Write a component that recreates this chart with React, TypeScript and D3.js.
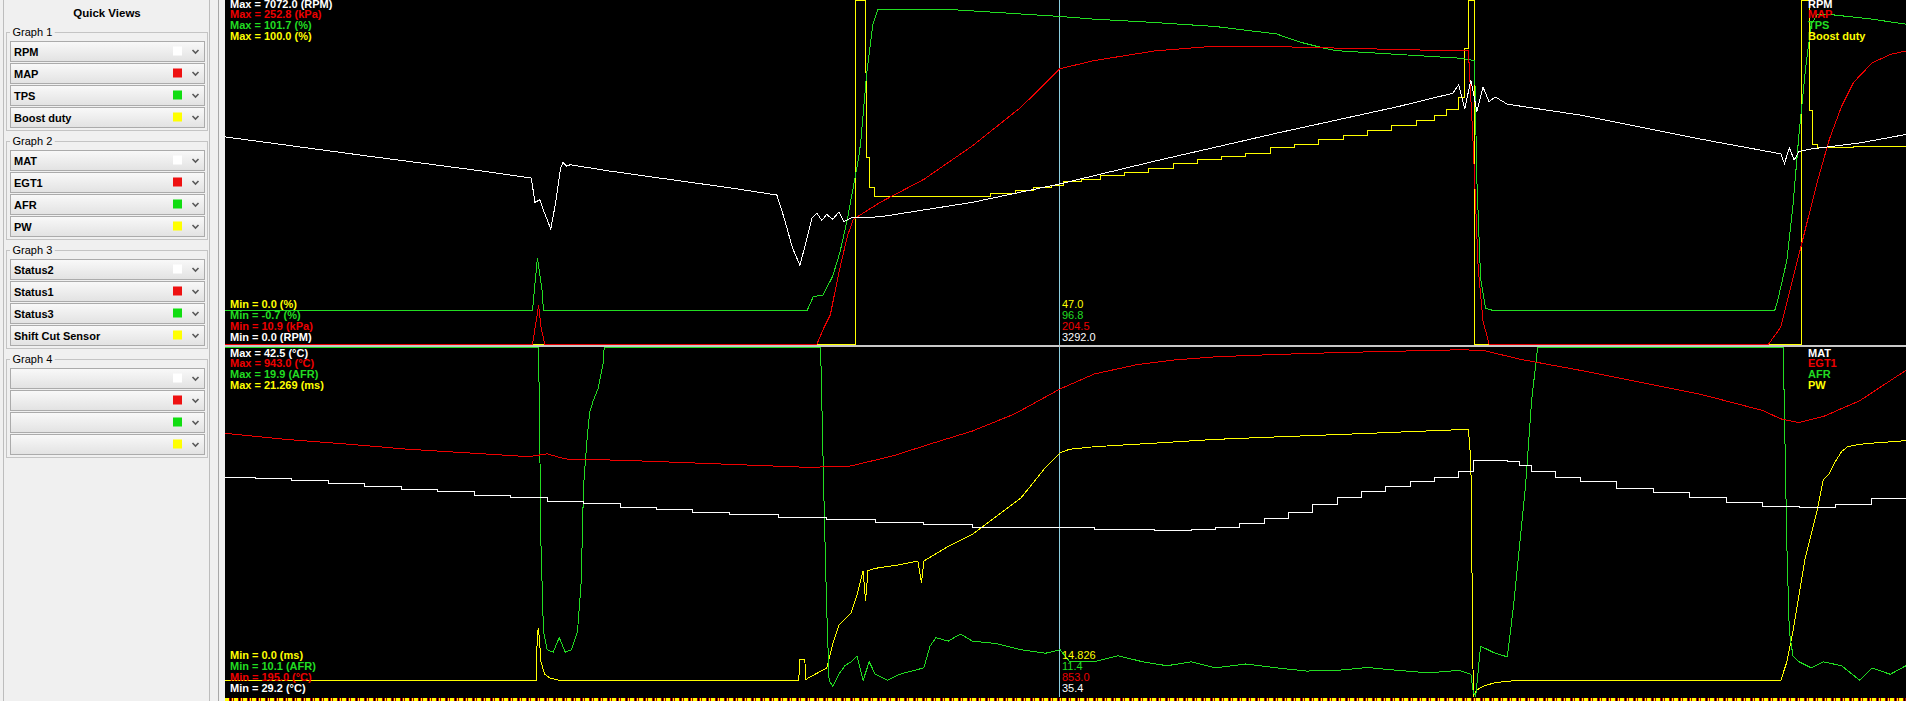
import React, { useEffect, useRef } from 'react'
import * as d3 from 'd3'

type Pt = [number, number]

const WIDTH = 1906
const HEIGHT = 701

// log window in seconds, cursor position
const timeDomain: [number, number] = [0, 138.3]
const cursorTime = 68.7

// ---- Graph 1 traces [time, value] ----
const rpm: Pt[] = [
  [0, 4258], [11.5, 3872], [21, 3561], [25.2, 3411], [25.5, 2913], [25.9, 2963], [26.2, 2750], [26.8, 2366],
  [27.2, 2900], [27.6, 3600], [27.8, 3735], [28.1, 3660], [28.4, 3685], [31.5, 3561], [36.5, 3386], [41.5, 3212],
  [45.4, 3063], [46, 2590], [46.7, 1967], [47.3, 1619], [47.8, 2092], [48.3, 2590], [48.7, 2689], [49.1, 2540],
  [49.5, 2664], [50, 2565], [50.5, 2714], [50.9, 2515], [51.5, 2590], [53.9, 2615], [61.5, 2913], [68.7, 3292],
  [76.5, 3760], [86.5, 4333], [96.5, 4880], [101, 5154], [101.5, 5329], [102, 4831], [102.5, 5428], [103, 4781],
  [103.5, 5279], [104, 4980], [104.5, 5080], [105.5, 4930], [111.5, 4706], [121.5, 4208], [128, 3909], [128.3, 3710],
  [128.7, 4034], [129.1, 3785], [129.5, 3959], [130.5, 4009], [134.5, 4133], [138.3, 4308]
]
const map: Pt[] = [
  [0, 10.9], [25.3, 10.9], [25.6, 27], [25.8, 38], [26, 22.8], [26.3, 10.9], [48.7, 10.9], [49.3, 22.8],
  [49.8, 31.3], [50.5, 61], [51.2, 86.6], [51.7, 98.6], [53.9, 110.5], [57.5, 126.7], [61.5, 150.3], [65.5, 177.5],
  [68.7, 204.5], [71.5, 210.2], [76.5, 217], [81.5, 220.4], [86.5, 220], [91.5, 219], [96.5, 218], [101.5, 217],
  [102.3, 217], [102.7, 150], [103.1, 65], [103.5, 27], [104, 10.9], [127, 10.9], [128, 22.8], [129, 56.9],
  [130, 91], [131, 125], [132, 155], [133, 178], [134, 195], [135.5, 208.5], [137, 214.5], [138.3, 217]
]
const tps: Pt[] = [
  [0, 9.3], [25.3, 9.3], [25.7, 24.9], [26.1, 14.8], [26.2, 9.3], [47.9, 9.3], [48.4, 13.4], [49.2, 13.9],
  [50, 19.5], [50.6, 26.7], [51.2, 36.4], [51.7, 46.2], [52.1, 54.1], [52.3, 59.2], [52.8, 80.1], [53.3, 94.5],
  [53.7, 98.8], [60, 98.8], [68.7, 96.8], [71.5, 96], [76.5, 95], [81.5, 93.8], [86.5, 91.6], [88.5, 89.1],
  [90.5, 87.3], [91.5, 86.6], [96.5, 85.5], [101.5, 84.4], [102.8, 83.7], [103, 47.6], [103.3, 18.8], [103.7, 10],
  [104.3, 9.3], [127.5, 9.3], [127.7, 11.6], [128.5, 24.2], [129, 40.4], [129.5, 62], [130, 80.1], [130.5, 94.5],
  [131, 97.4], [132, 97.4], [135.5, 96], [138.3, 94.5]
]
const boost: Pt[] = [
  [0, 0], [51.9, 100], [52.7, 78.9], [52.8, 54.2], [53, 45.4], [53.4, 43], [63, 43.7], [65, 44.7], [66.5, 45.4],
  [68, 46.1], [69, 47.2], [70.5, 47.9], [72, 48.9], [74, 50], [76, 51], [78, 52.5], [80, 53.5], [82, 54.5],
  [84, 55.5], [86, 57], [88, 58], [90, 59.5], [92, 60.5], [94, 62], [96, 63.5], [98, 65], [99.5, 66.5],
  [100.5, 68.3], [101.5, 71.8], [102, 85.9], [102.3, 100], [102.8, 0], [129.7, 100], [130.4, 68], [130.6, 58],
  [131, 57], [134, 57.5], [138.3, 58]
]

// ---- Graph 2 traces ----
const mat: Pt[] = [
  [0, 37.54], [2.5, 37.5], [5.5, 37.4], [8.5, 37.31], [11.5, 37.17], [14.5, 37.08], [17.5, 36.99], [20.5, 36.85],
  [23.5, 36.75], [26.5, 36.61], [29.5, 36.52], [32.5, 36.38], [35.5, 36.29], [38.5, 36.2], [41.5, 36.1], [45.5, 36.01],
  [49.5, 35.92], [53.5, 35.83], [57.5, 35.73], [61.5, 35.64], [71.5, 35.55], [76.5, 35.5], [79.5, 35.55], [81.5, 35.64],
  [83.5, 35.78], [85.5, 35.97], [87.5, 36.2], [89.5, 36.48], [91.5, 36.75], [93.5, 36.99], [95.5, 37.17], [97.5, 37.36],
  [99.5, 37.54], [101.5, 37.77], [102.7, 38.19], [105.5, 38.14], [106.5, 38.0], [107.5, 37.77], [109.5, 37.54],
  [111.5, 37.36], [114.5, 37.12], [117.5, 36.94], [120.5, 36.75], [123.5, 36.57], [126.5, 36.43], [129.5, 36.38],
  [132.5, 36.48], [135.5, 36.71], [138.3, 36.94]
]
const egt: Pt[] = [
  [0, 758], [5, 745], [10, 735], [15, 724], [20, 716], [25, 708], [26.5, 714], [28, 703], [33, 700], [38, 695],
  [43, 690], [48, 685], [51.5, 688], [55, 710], [58, 735], [61.5, 763], [65, 800], [68.7, 853], [71.5, 885],
  [75, 905], [78, 915], [81.5, 922], [86.5, 927], [91.5, 931], [96.5, 934], [101.5, 937], [103.5, 936],
  [106.5, 917], [111.5, 893], [116.5, 867], [121.5, 841], [126.5, 807], [128, 789], [129.5, 781], [131.5, 794],
  [134.5, 828], [138.3, 893]
]
const afr: Pt[] = [
  [0, 19.9], [25.8, 19.9], [26, 14.3], [26.2, 11.91], [26.5, 11.4], [27, 11.33], [27.5, 11.74], [28, 11.33],
  [28.5, 11.4], [29, 11.91], [29.3, 13.28], [29.5, 16.01], [29.8, 17.37], [30, 18.06], [30.3, 18.4], [30.5, 18.57],
  [30.7, 18.74], [30.9, 19.08], [31.1, 19.42], [31.2, 19.9], [49, 19.9], [49.3, 15.32], [49.5, 12.59], [49.7, 10.54],
  [50, 10.37], [50.5, 10.71], [51, 10.95], [51.5, 11.06], [52, 11.23], [52.5, 10.54], [53, 11.06], [53.5, 10.71],
  [54.5, 10.54], [55.5, 10.71], [57.5, 10.89], [58, 11.5], [58.5, 11.74], [59.5, 11.64], [60.5, 11.84], [61.5, 11.64],
  [63.5, 11.57], [65.5, 11.4], [67.5, 11.3], [68.7, 11.4], [69.5, 11.06], [71.5, 11.06], [73.5, 11.23], [75.5, 11.06],
  [77.5, 10.95], [79.5, 11.06], [81.5, 10.89], [84, 11], [86.5, 10.89], [89, 10.8], [91.5, 10.82], [94, 10.9],
  [96.5, 10.82], [99, 10.75], [101.5, 10.82], [102.5, 10.71], [102.7, 10.2], [102.9, 10.1], [103.3, 11.5],
  [104.5, 11.3], [105.5, 11.2], [106, 12.6], [106.5, 14.3], [107, 16], [107.5, 18.4], [108, 19.9], [128.2, 19.9],
  [128.5, 14.3], [128.7, 11.91], [129, 11.23], [129.5, 11.06], [130.5, 10.89], [131.5, 11.06], [133, 10.95],
  [134.5, 10.54], [135.5, 10.89], [137, 10.71], [138.3, 10.95]
]
const pw: Pt[] = [
  [0, 0.96], [25.6, 0.96], [25.7, 3.93], [25.8, 4.08], [26, 2.08], [26.3, 1.33], [26.7, 1.11], [27.5, 0.96],
  [47.2, 0.96], [47.3, 2.22], [47.7, 2.22], [47.8, 0.96], [48, 1.11], [49.5, 1.7], [50, 3.19], [50.5, 4.3],
  [51, 4.67], [51.5, 5.04], [52, 6.15], [52.5, 7.63], [52.7, 5.78], [52.9, 7.63], [53.5, 7.78], [55.5, 8],
  [57, 8.23], [57.3, 6.89], [57.5, 8.23], [59.5, 9.12], [61.5, 9.86], [63.5, 10.97], [65.5, 12.08], [67.5, 13.93],
  [68.7, 14.826], [69.5, 15.04], [71.5, 15.19], [76.5, 15.41], [81.5, 15.64], [86.5, 15.79], [91.5, 15.93],
  [96.5, 16.08], [101.5, 16.23], [102.3, 16.23], [102.5, 14.3], [102.7, 0], [103, 0.37], [103.5, 0.59],
  [104.5, 0.82], [106.5, 0.96], [128, 0.96], [128.5, 2.08], [129, 3.93], [129.5, 6.15], [130, 8.37], [130.5, 9.86],
  [131, 11.34], [131.5, 13.19], [132, 13.56], [132.5, 14.3], [133, 14.9], [133.5, 15.19], [134.5, 15.34],
  [135.5, 15.41], [138.3, 15.56]
]

// ---- labels / ranges ----
const graph1Names = ['RPM', 'MAP', 'TPS', 'Boost duty']
const graph1Units = ['RPM', 'kPa', '%', '%']
const graph1Min = [0.0, 10.9, -0.7, 0.0]
const graph1Max = [7072.0, 252.8, 101.7, 100.0]
const graph1Cursor = ['3292.0', '204.5', '96.8', '47.0']
const graph1MaxDigits = [1, 1, 1, 1]
const graph1MinDigits = [1, 1, 1, 1]

const graph2Names = ['MAT', 'EGT1', 'AFR', 'PW']
const graph2Units = ['°C', '°C', 'AFR', 'ms']
const graph2Min = [29.2, 195.0, 10.1, 0.0]
const graph2Max = [42.5, 943.0, 19.9, 21.269]
const graph2Cursor = ['35.4', '853.0', '11.4', '14.826']
const graph2MaxDigits = [1, 1, 1, 3]
const graph2MinDigits = [1, 1, 1, 1]

const quickGroups = ['Graph 1', 'Graph 2', 'Graph 3', 'Graph 4']
const quickFields = [
  ['RPM', 'MAP', 'TPS', 'Boost duty'],
  ['MAT', 'EGT1', 'AFR', 'PW'],
  ['Status2', 'Status1', 'Status3', 'Shift Cut Sensor'],
  ['', '', '', '']
]
const swatchColors = ['#ffffff', '#ee1111', '#11dd11', '#ffff00']
const traceColors = ['#ffffff', '#ee0000', '#22dd22', '#ffff00']

const LogViewer: React.FC = () => {
  const svgRef = useRef<SVGSVGElement>(null)

  useEffect(() => {
    if (!svgRef.current) return

    const svg = d3.select(svgRef.current)
    svg.selectAll('*').remove()

    const font = "'Liberation Sans', Arial, sans-serif"
    const plotLeft = 225
    const defs = svg.append('defs')

    const grad = defs.append('linearGradient').attr('id', 'rowGrad')
      .attr('x1', 0).attr('y1', 0).attr('x2', 0).attr('y2', 1)
    grad.append('stop').attr('offset', '0%').attr('stop-color', '#f9f9f9')
    grad.append('stop').attr('offset', '100%').attr('stop-color', '#e2e2e2')

    // marker strip pattern at the bottom
    const pat = defs.append('pattern').attr('id', 'marks')
      .attr('patternUnits', 'userSpaceOnUse').attr('width', 9).attr('height', 4)
    pat.append('rect').attr('width', 9).attr('height', 4).attr('fill', '#b00000')
    pat.append('rect').attr('width', 4).attr('height', 4).attr('fill', '#ffff00')
    pat.append('rect').attr('x', 5).attr('width', 1).attr('height', 4).attr('fill', '#000')
    pat.append('rect').attr('x', 7).attr('width', 1).attr('height', 4).attr('fill', '#ffff00')

    // ---- Quick Views panel ----
    const panel = svg.append('g').style('font-family', font)
    panel.append('rect').attr('width', plotLeft).attr('height', HEIGHT).attr('fill', '#f0f0f0')
    panel.append('rect')
      .attr('x', 3.5).attr('y', -1).attr('width', 206).attr('height', HEIGHT + 2)
      .attr('fill', 'none').attr('stroke', '#bdbdbd')
    panel.append('line')
      .attr('x1', 218.5).attr('x2', 218.5).attr('y1', 0).attr('y2', HEIGHT)
      .attr('stroke', '#a8a8a8')

    panel.append('text')
      .attr('x', 107).attr('y', 17)
      .attr('text-anchor', 'middle')
      .style('font-size', '11.5px').style('font-weight', 'bold')
      .text('Quick Views')

    quickGroups.forEach((title, gi) => {
      const top = 32 + gi * 109
      panel.append('rect')
        .attr('x', 6.5).attr('y', top + 0.5).attr('width', 201).attr('height', 98)
        .attr('fill', 'none').attr('stroke', '#c4c4c4')
      const label = panel.append('text')
        .attr('x', 12.5).attr('y', top + 4)
        .style('font-size', '11px')
        .text(title)
      const len = (label.node() as SVGTextElement).getComputedTextLength()
      panel.insert('rect', () => label.node())
        .attr('x', 10).attr('y', top - 2).attr('width', len + 5).attr('height', 5)
        .attr('fill', '#f0f0f0')

      quickFields[gi].forEach((field, ri) => {
        const ry = top + 9.5 + ri * 22
        panel.append('rect')
          .attr('x', 10.5).attr('y', ry).attr('width', 194).attr('height', 20)
          .attr('fill', 'url(#rowGrad)').attr('stroke', '#ababab')
        panel.append('text')
          .attr('x', 14).attr('y', ry + 14.5)
          .style('font-size', '11px').style('font-weight', 'bold')
          .text(field)
        panel.append('rect')
          .attr('x', 173).attr('y', ry + 5).attr('width', 9).attr('height', 9)
          .attr('fill', swatchColors[ri])
        panel.append('path')
          .attr('d', `M192.5,${ry + 8.5} L195.5,${ry + 11.5} L198.5,${ry + 8.5}`)
          .attr('fill', 'none').attr('stroke', '#5a5a5a').attr('stroke-width', 1.6)
      })
    })

    // ---- plot area ----
    svg.append('rect')
      .attr('x', plotLeft).attr('y', 0).attr('width', WIDTH - plotLeft).attr('height', HEIGHT)
      .attr('fill', '#000')

    const x = d3.scaleLinear().domain(timeDomain).range([plotLeft, WIDTH])
    const cursorX = Math.round(x(cursorTime)) - 0.5

    const panels = [
      {
        top: 0, bottom: 344, traces: [rpm, map, tps, boost], step: [false, false, false, true],
        names: graph1Names, units: graph1Units, min: graph1Min, max: graph1Max,
        cursor: graph1Cursor, maxDigits: graph1MaxDigits, minDigits: graph1MinDigits,
        maxBase: 7.5, minBase: 308
      },
      {
        top: 347, bottom: 696, traces: [mat, egt, afr, pw], step: [true, false, false, false],
        names: graph2Names, units: graph2Units, min: graph2Min, max: graph2Max,
        cursor: graph2Cursor, maxDigits: graph2MaxDigits, minDigits: graph2MinDigits,
        maxBase: 356.5, minBase: 659
      }
    ]

    // cursor line
    svg.append('line')
      .attr('x1', cursorX).attr('x2', cursorX).attr('y1', 0).attr('y2', 697)
      .attr('stroke', '#8ccfe0').attr('stroke-width', 1)

    panels.forEach((p, pi) => {
      const clipId = `graph-clip-${pi}`
      defs.append('clipPath').attr('id', clipId)
        .append('rect')
        .attr('x', plotLeft).attr('y', p.top - 1)
        .attr('width', WIDTH - plotLeft).attr('height', p.bottom - p.top + 2)

      const g = svg.append('g').attr('clip-path', `url(#${clipId})`)

      // last slot drawn first so slot 1 sits on top
      for (let i = 3; i >= 0; i--) {
        const y = d3.scaleLinear()
          .domain([p.min[i], p.max[i]])
          .range([p.bottom, p.top])
          .clamp(true)
        const line = d3.line<Pt>()
          .x(d => x(d[0]))
          .y(d => y(d[1]))
          .curve(p.step[i] ? d3.curveStepAfter : d3.curveLinear)
        g.append('path')
          .datum(p.traces[i])
          .attr('d', line)
          .attr('fill', 'none')
          .attr('stroke', traceColors[i])
          .attr('stroke-width', 1)
          .attr('shape-rendering', 'crispEdges')
      }

      const t = svg.append('g').style('font-family', font).style('font-size', '11px')

      // Max labels, top-left
      p.names.forEach((_, i) => {
        t.append('text')
          .attr('x', 230).attr('y', p.maxBase + i * 10.8)
          .style('font-weight', 'bold')
          .attr('fill', traceColors[i])
          .text(`Max = ${p.max[i].toFixed(p.maxDigits[i])} (${p.units[i]})`)
      })

      // Min labels and cursor values, bottom (reverse order)
      for (let k = 0; k < 4; k++) {
        const i = 3 - k
        t.append('text')
          .attr('x', 230).attr('y', p.minBase + k * 11.1)
          .style('font-weight', 'bold')
          .attr('fill', traceColors[i])
          .text(`Min = ${p.min[i].toFixed(p.minDigits[i])} (${p.units[i]})`)
        t.append('text')
          .attr('x', cursorX + 2.5).attr('y', p.minBase + k * 11.1)
          .attr('fill', traceColors[i])
          .text(p.cursor[i])
      }

      // field names, top-right
      p.names.forEach((name, i) => {
        t.append('text')
          .attr('x', 1808).attr('y', p.maxBase + i * 10.8)
          .style('font-weight', 'bold')
          .attr('fill', traceColors[i])
          .text(name)
      })
    })

    // divider between graphs
    svg.append('rect')
      .attr('x', plotLeft).attr('y', 345).attr('width', WIDTH - plotLeft).attr('height', 2)
      .attr('fill', '#c8c8c8')

    // marker strip
    svg.append('rect')
      .attr('x', plotLeft).attr('y', 698).attr('width', WIDTH - plotLeft).attr('height', 3)
      .attr('fill', 'url(#marks)')
  }, [])

  return (
    <svg
      ref={svgRef}
      width={WIDTH}
      height={HEIGHT}
      style={{ position: 'absolute', left: 0, top: 0, display: 'block' }}
    />
  )
}

export default function App() {
  return <LogViewer />
}
